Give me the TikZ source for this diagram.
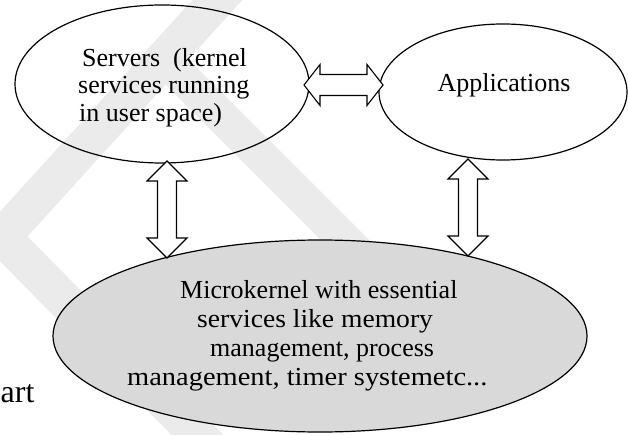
\documentclass[tikz,border=0pt]{standalone}
\usepackage{fontspec}
\setmainfont{Liberation Serif}
\usetikzlibrary{shapes.geometric,calc}
\definecolor{wmgray}{HTML}{EBEBEB}
\definecolor{kgray}{HTML}{D9D9D9}
\tikzset{
  wm/.style={draw=wmgray, line join=miter},
  bubble/.style={ellipse, draw=black, line width=1.2pt, inner sep=0pt},
  fat/.style={draw=black, fill=white, line width=1.1pt, line join=miter},
  lbl/.style={font=\fontsize{26}{30}\selectfont, inner sep=0pt},
}
\newcommand{\hfat}[2]{\draw[fat] let \p1=(#1), \p2=(#2) in
  (\p1) -- (\x1+16pt,\y1+20.5pt) -- (\x1+16pt,\y1+10.5pt) -- (\x2-16pt,\y1+10.5pt)
  -- (\x2-16pt,\y1+20.5pt) -- (\p2) -- (\x2-16pt,\y1-20.5pt) -- (\x2-16pt,\y1-10.5pt)
  -- (\x1+16pt,\y1-10.5pt) -- (\x1+16pt,\y1-20.5pt) -- cycle;}
\newcommand{\vfat}[2]{\draw[fat] let \p1=(#1), \p2=(#2) in
  (\p1) -- (\x1+20pt,\y1-20pt) -- (\x1+9.5pt,\y1-20pt) -- (\x1+9.5pt,\y2+20pt)
  -- (\x1+20pt,\y2+20pt) -- (\p2) -- (\x1-20pt,\y2+20pt) -- (\x1-9.5pt,\y2+20pt)
  -- (\x1-9.5pt,\y1-20pt) -- (\x1-20pt,\y1-20pt) -- cycle;}
\begin{document}
\begin{tikzpicture}[x=1pt,y=-1pt]
\useasboundingbox (0,0) rectangle (628,435);
% watermark
\begin{scope}
  \clip (0,0) rectangle (628,435);
  \draw[wm, line width=37pt] (241,-26) -- (2,237) -- (240,478);
  \draw[wm, line width=34pt] (164,59) -- (430,325);
\end{scope}
% ellipses
\node[bubble, minimum width=294pt, minimum height=158pt] (srv) at (162,84) {};
\node[bubble, minimum width=248pt, minimum height=136pt] (app) at (503,92) {};
\node[bubble, fill=kgray, minimum width=534pt, minimum height=192pt] (mk) at (320,336) {};
% arrow tips
\coordinate (h1) at (304,85);
\coordinate (h2) at (383,85);
\coordinate (v1t) at (167,161);
\coordinate (v1b) at (167,258);
\coordinate (v2t) at (468,159);
\coordinate (v2b) at (468,256);
\hfat{h1}{h2}
\vfat{v1t}{v1b}
\vfat{v2t}{v2b}
% texts
\node[lbl, anchor=base west] (s1) at (82,67) {Servers\ \ (kernel};
\node[lbl, anchor=base west] (s2) at (78,94) {services running};
\node[lbl, anchor=base west] (s3) at (79,122) {in user space)};
\node[lbl, anchor=base] (a1) at (504,92) {Applications};
\node[lbl, anchor=base west] (m1) at (180,298) {Microkernel with essential};
\node[lbl, anchor=base west, xscale=1.06, transform shape] (m2) at (197,327) {services like memory};
\node[lbl, anchor=base west] (m3) at (210,356) {management, process};
\node[lbl, anchor=base west, xscale=1.094, transform shape] (m4) at (127,385) {management, timer systemetc...};
\node[font=\fontsize{32}{38}\selectfont, inner sep=0pt, anchor=base west] (art) at (0.5,402) {art};
\end{tikzpicture}
\end{document}
